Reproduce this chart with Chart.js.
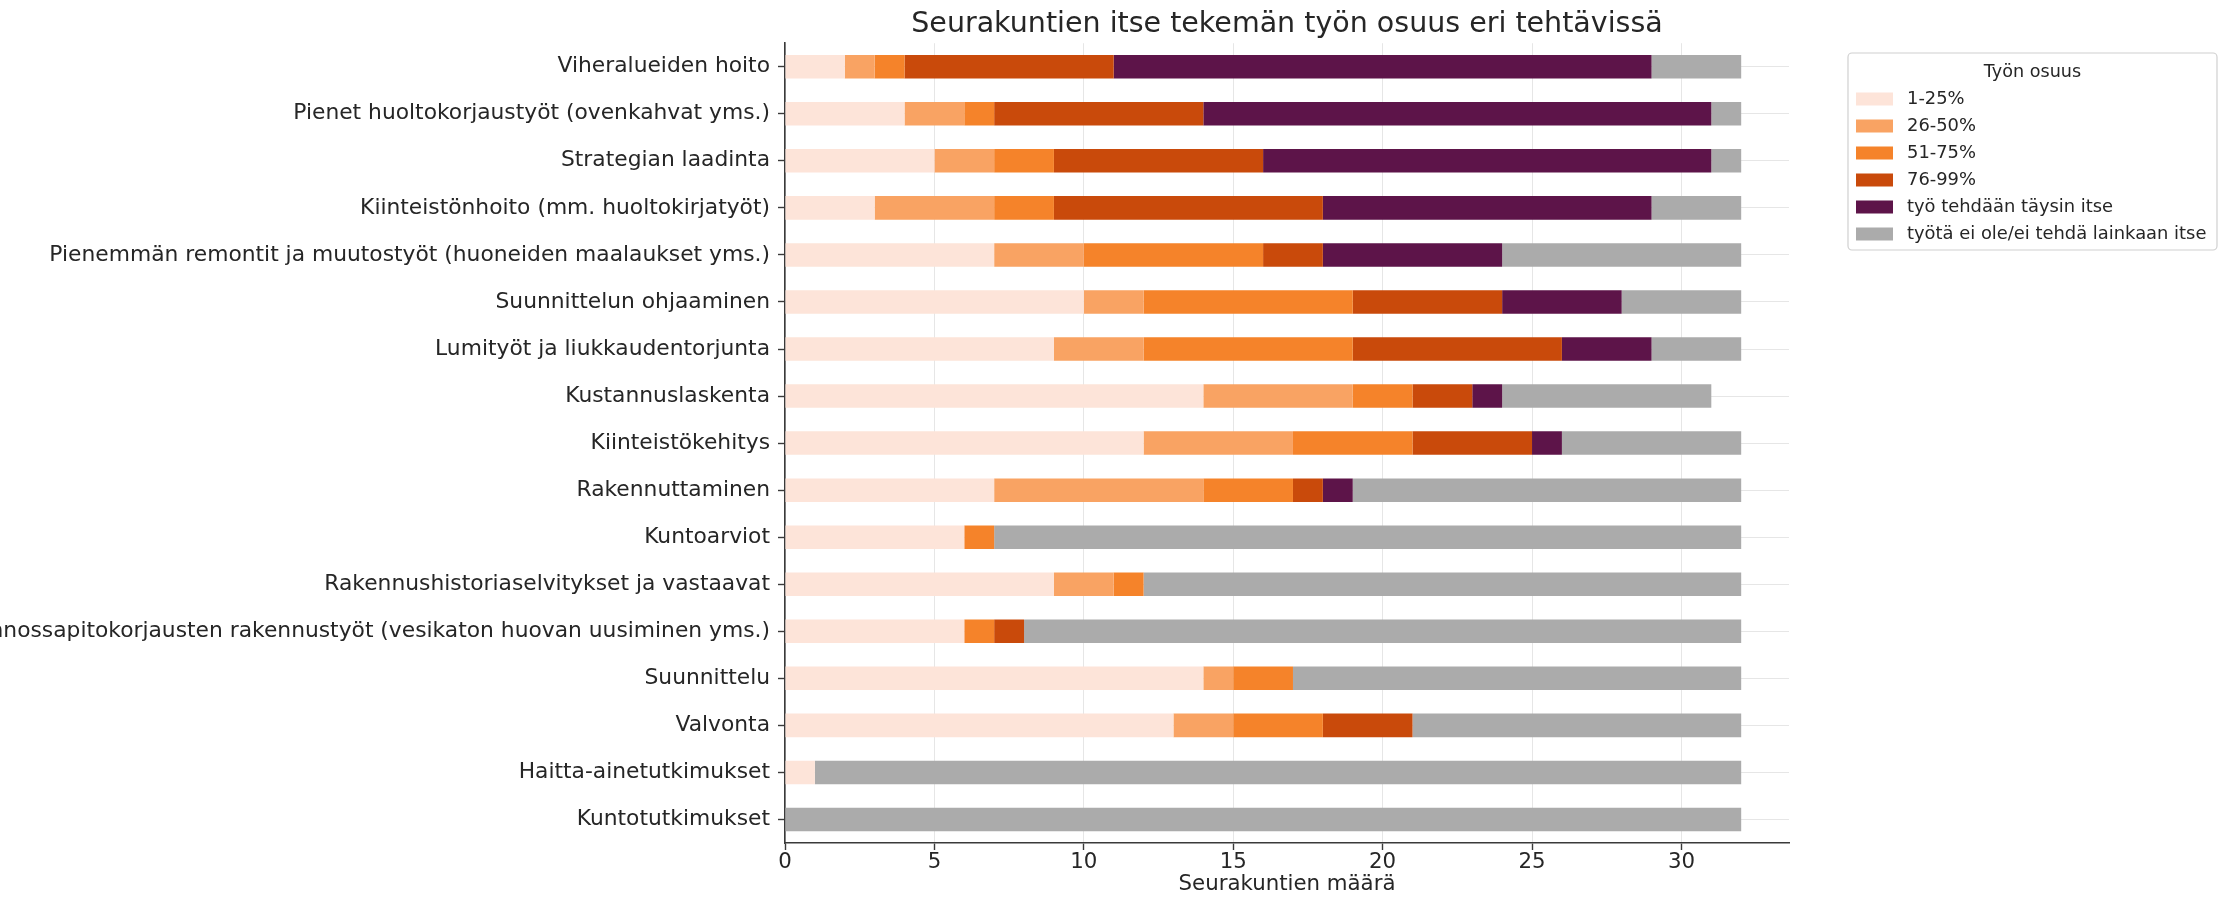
<!DOCTYPE html>
<html>
<head>
<meta charset="utf-8">
<title>Seurakuntien itse tekemän työn osuus</title>
<script src="https://cdn.jsdelivr.net/npm/chart.js@4.4.1/dist/chart.umd.min.js"></script>
<style>
  html, body { margin: 0; padding: 0; background: #fff; }
  canvas { display: block; }
</style>
</head>
<body>
<canvas id="share-chart" width="2224" height="899"></canvas>
<script>
// Seurakuntien itse tekemän työn osuus – stacked horizontal bars

const tasks = [
  "Viheralueiden hoito",
  "Pienet huoltokorjaustyöt (ovenkahvat yms.)",
  "Strategian laadinta",
  "Kiinteistönhoito (mm. huoltokirjatyöt)",
  "Pienemmän remontit ja muutostyöt (huoneiden maalaukset yms.)",
  "Suunnittelun ohjaaminen",
  "Lumityöt ja liukkaudentorjunta",
  "Kustannuslaskenta",
  "Kiinteistökehitys",
  "Rakennuttaminen",
  "Kuntoarviot",
  "Rakennushistoriaselvitykset ja vastaavat",
  "Kunnossapitokorjausten rakennustyöt (vesikaton huovan uusiminen yms.)",
  "Suunnittelu",
  "Valvonta",
  "Haitta-ainetutkimukset",
  "Kuntotutkimukset",
];

const share1to25 = [2, 4, 5, 3, 7, 10, 9, 14, 12, 7, 6, 9, 6, 14, 13, 1, 0];
const share26to50 = [1, 2, 2, 4, 3, 2, 3, 5, 5, 7, 0, 2, 0, 1, 2, 0, 0];
const share51to75 = [1, 1, 2, 2, 6, 7, 7, 2, 4, 3, 1, 1, 1, 2, 3, 0, 0];
const share76to99 = [7, 7, 7, 9, 2, 5, 7, 2, 4, 1, 0, 0, 1, 0, 3, 0, 0];
const fullySelf = [18, 17, 15, 11, 6, 4, 3, 1, 1, 1, 0, 0, 0, 0, 0, 0, 0];
const notSelf = [3, 1, 1, 3, 8, 4, 3, 7, 6, 13, 25, 20, 24, 15, 11, 31, 32];

const seriesLabels = [
  "1-25%",
  "26-50%",
  "51-75%",
  "76-99%",
  "työ tehdään täysin itse",
  "työtä ei ole/ei tehdä lainkaan itse",
];
const seriesColors = ["#fde4d9", "#f9a363", "#f5832a", "#c94a0b", "#5d1449", "#ababab"];

const xTicks = [0, 5, 10, 15, 20, 25, 30];

const FONT = "'DejaVu Sans', 'Liberation Sans', sans-serif";
const TEXT = "#262626";
const SPINE = "#3a3a3a";
const GRID = "rgba(176, 176, 176, 0.32)";

Chart.defaults.font.family = FONT;
Chart.defaults.color = TEXT;

// legend drawn in a matplotlib-like frame at the right
const frameLegend = {
  id: "frameLegend",
  afterDraw(chart) {
    const ctx = chart.ctx;
    const box = { x: 1848, y: 53, w: 369, h: 197 };
    ctx.save();
    ctx.beginPath();
    ctx.roundRect(box.x, box.y, box.w, box.h, 4);
    ctx.fillStyle = "rgba(255,255,255,0.85)";
    ctx.fill();
    ctx.strokeStyle = "#d0d0d0";
    ctx.lineWidth = 1.2;
    ctx.stroke();

    ctx.font = "17.6px " + FONT;
    ctx.fillStyle = TEXT;
    ctx.textAlign = "center";
    ctx.textBaseline = "middle";
    ctx.fillText("Työn osuus", box.x + box.w / 2, 72);

    ctx.font = "17.9px " + FONT;
    ctx.textAlign = "left";
    chart.data.datasets.forEach((ds, i) => {
      const cy = 99 + i * 27;
      ctx.fillStyle = ds.backgroundColor;
      ctx.fillRect(1856, cy - 6.5, 37, 13);
      ctx.fillStyle = TEXT;
      ctx.fillText(ds.label, 1907, cy);
    });
    ctx.restore();
  },
};

const datasets = [share1to25, share26to50, share51to75, share76to99, fullySelf, notSelf].map(
  (values, i) => ({
    label: seriesLabels[i],
    data: values,
    backgroundColor: seriesColors[i],
    borderWidth: 0,
    categoryPercentage: 1,
    barPercentage: 0.5,
  })
);

new Chart(document.getElementById("share-chart").getContext("2d"), {
  type: "bar",
  data: { labels: tasks, datasets },
  plugins: [frameLegend],
  options: {
    indexAxis: "y",
    responsive: false,
    animation: false,
    devicePixelRatio: 1,
    layout: { padding: { left: 0, right: 435, top: 0, bottom: 0 } },
    plugins: {
      legend: { display: false },
      tooltip: { enabled: false },
      title: {
        display: true,
        fullSize: false,
        text: "Seurakuntien itse tekemän työn osuus eri tehtävissä",
        color: TEXT,
        font: { size: 28.5, weight: "normal" },
        padding: { top: 7, bottom: 2 },
      },
    },
    scales: {
      x: {
        stacked: true,
        min: 0,
        max: 33.6,
        z: 1,
        afterBuildTicks: (scale) => {
          scale.ticks = xTicks.map((v) => ({ value: v }));
        },
        afterFit: (scale) => {
          scale.height = 56;
        },
        ticks: {
          color: TEXT,
          font: { size: 21.3 },
          padding: 0,
          maxRotation: 0,
        },
        grid: {
          color: GRID,
          lineWidth: 1,
          tickColor: SPINE,
          tickLength: 7,
          tickWidth: 1.4,
        },
        border: { display: true, color: SPINE, width: 1.6 },
        title: {
          display: true,
          text: "Seurakuntien määrä",
          color: TEXT,
          font: { size: 21.3 },
          padding: { top: 0, bottom: 2 },
        },
      },
      y: {
        stacked: true,
        z: 1,
        afterFit: (scale) => {
          scale.width = 785;
        },
        ticks: {
          color: TEXT,
          font: { size: 21.8 },
          padding: 8,
          autoSkip: false,
        },
        grid: {
          offset: false,
          color: GRID,
          lineWidth: 1,
          tickColor: SPINE,
          tickLength: 7,
          tickWidth: 1.4,
        },
        border: { display: true, color: SPINE, width: 1.6 },
      },
    },
  },
});
</script>
</body>
</html>
